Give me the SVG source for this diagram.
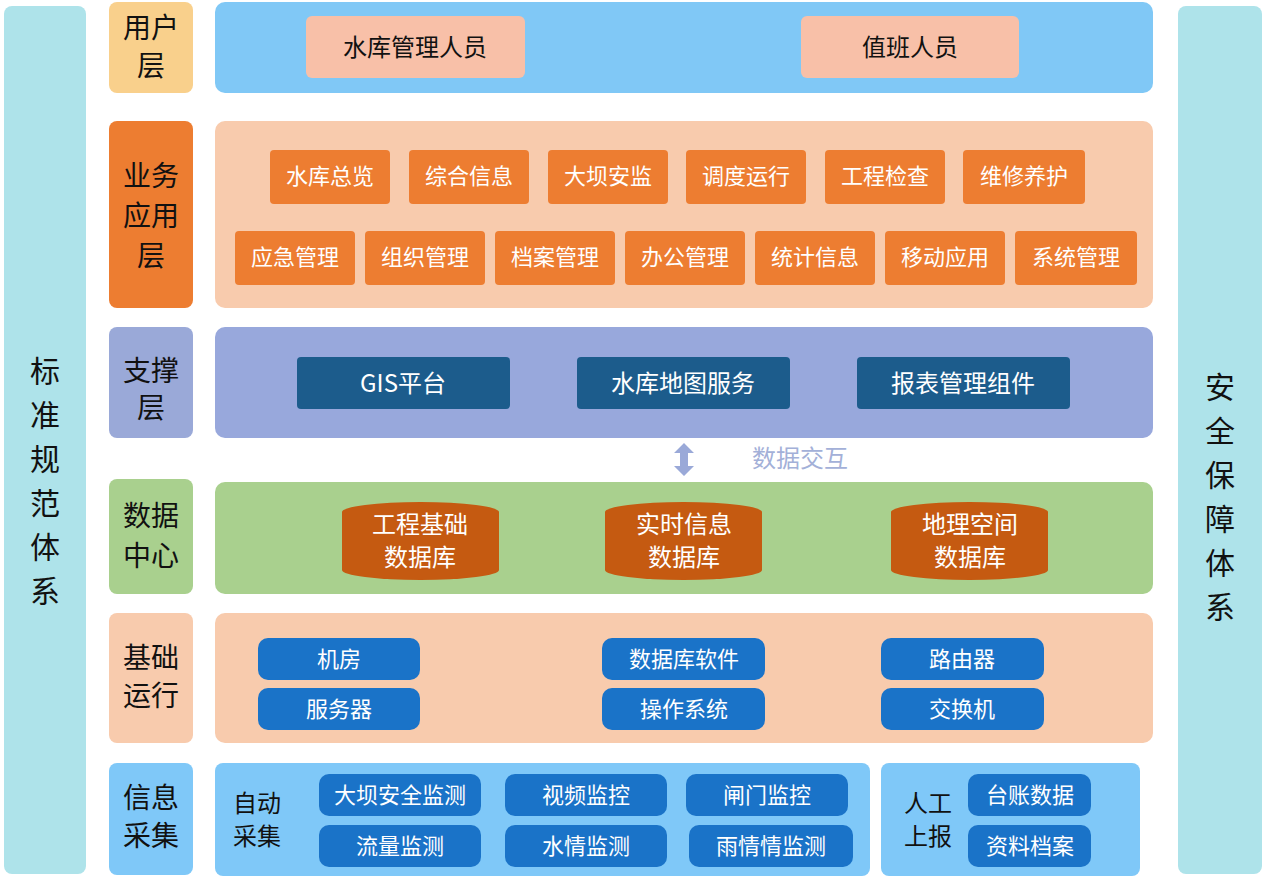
<svg xmlns="http://www.w3.org/2000/svg" width="1264" height="880" viewBox="0 0 1264 880">
<style>
text{font-family:"Noto Sans CJK SC","Liberation Sans",sans-serif;text-anchor:middle}
.side{fill:#aee3ea}
.sidet{font-size:30px;fill:#111}
.lab{font-size:28px;fill:#111}
.o{fill:#ed7d31}
.ot{font-size:22px;fill:#fff}
.db{fill:#1c5c8c}
.dbt{font-size:24px;fill:#fff}
.b{fill:#1a73c8}
.bt{font-size:22px;fill:#fff}
.cy{fill:#c55a11}
</style>
<rect width="1264" height="880" fill="#fff"/>
<g id="std"><rect class="side" x="4" y="6" width="82" height="868" rx="8"/>
<text class="sidet" x="45" y="382">标</text><text class="sidet" x="45" y="426">准</text><text class="sidet" x="45" y="470">规</text><text class="sidet" x="45" y="514">范</text><text class="sidet" x="45" y="558">体</text><text class="sidet" x="45" y="602">系</text></g>
<g id="sec"><rect class="side" x="1178" y="6" width="84" height="868" rx="8"/>
<text class="sidet" x="1220" y="398">安</text><text class="sidet" x="1220" y="442">全</text><text class="sidet" x="1220" y="486">保</text><text class="sidet" x="1220" y="530">障</text><text class="sidet" x="1220" y="574">体</text><text class="sidet" x="1220" y="618">系</text></g>

<g id="l-user"><rect x="109" y="2" width="84" height="91" rx="8" fill="#f9d08c"/><text class="lab" x="151" y="38">用户</text><text class="lab" x="151" y="76">层</text></g>
<g id="l-biz"><rect x="109" y="121" width="84" height="187" rx="8" fill="#ed7d31"/><text class="lab" x="151" y="186">业务</text><text class="lab" x="151" y="226">应用</text><text class="lab" x="151" y="266">层</text></g>
<g id="l-sup"><rect x="109" y="327" width="84" height="111" rx="8" fill="#9aa9d8"/><text class="lab" x="151" y="381">支撑</text><text class="lab" x="151" y="418">层</text></g>
<g id="l-data"><rect x="109" y="479" width="84" height="115" rx="8" fill="#a9d08e"/><text class="lab" x="151" y="526">数据</text><text class="lab" x="151" y="566">中心</text></g>
<g id="l-base"><rect x="109" y="613" width="84" height="130" rx="8" fill="#f8cbad"/><text class="lab" x="151" y="668">基础</text><text class="lab" x="151" y="706">运行</text></g>
<g id="l-col"><rect x="109" y="763" width="84" height="112" rx="8" fill="#7fc8f8"/><text class="lab" x="151" y="808">信息</text><text class="lab" x="151" y="846">采集</text></g>

<g id="p-user"><rect x="215" y="2" width="938" height="91" rx="10" fill="#80c8f6"/>
<rect x="306" y="16" width="219" height="62" rx="6" fill="#f8c0a8"/><text x="415" y="56" font-size="24" fill="#111">水库管理人员</text>
<rect x="801" y="16" width="218" height="62" rx="6" fill="#f8c0a8"/><text x="910" y="56" font-size="24" fill="#111">值班人员</text></g>

<g id="p-biz"><rect x="215" y="121" width="938" height="187" rx="10" fill="#f8cbad"/>
<rect class="o" x="270" y="150" width="120" height="54" rx="4"/><text class="ot" x="330" y="184">水库总览</text>
<rect class="o" x="409" y="150" width="120" height="54" rx="4"/><text class="ot" x="469" y="184">综合信息</text>
<rect class="o" x="548" y="150" width="120" height="54" rx="4"/><text class="ot" x="608" y="184">大坝安监</text>
<rect class="o" x="686" y="150" width="120" height="54" rx="4"/><text class="ot" x="746" y="184">调度运行</text>
<rect class="o" x="825" y="150" width="120" height="54" rx="4"/><text class="ot" x="885" y="184">工程检查</text>
<rect class="o" x="963" y="150" width="122" height="54" rx="4"/><text class="ot" x="1024" y="184">维修养护</text>
<rect class="o" x="235" y="231" width="120" height="54" rx="4"/><text class="ot" x="295" y="265">应急管理</text>
<rect class="o" x="365" y="231" width="120" height="54" rx="4"/><text class="ot" x="425" y="265">组织管理</text>
<rect class="o" x="495" y="231" width="120" height="54" rx="4"/><text class="ot" x="555" y="265">档案管理</text>
<rect class="o" x="625" y="231" width="120" height="54" rx="4"/><text class="ot" x="685" y="265">办公管理</text>
<rect class="o" x="755" y="231" width="120" height="54" rx="4"/><text class="ot" x="815" y="265">统计信息</text>
<rect class="o" x="885" y="231" width="120" height="54" rx="4"/><text class="ot" x="945" y="265">移动应用</text>
<rect class="o" x="1015" y="231" width="122" height="54" rx="4"/><text class="ot" x="1076" y="265">系统管理</text></g>

<g id="p-sup"><rect x="215" y="327" width="938" height="111" rx="10" fill="#98a8dc"/>
<rect class="db" x="297" y="357" width="213" height="52" rx="4"/><text class="dbt" x="403" y="392">GIS平台</text>
<rect class="db" x="577" y="357" width="213" height="52" rx="4"/><text class="dbt" x="683" y="392">水库地图服务</text>
<rect class="db" x="857" y="357" width="213" height="52" rx="4"/><text class="dbt" x="963" y="392">报表管理组件</text></g>

<g id="connectors"><path d="M684 443 L694 453 L688 453 L688 466 L694 466 L684 476 L674 466 L680 466 L680 453 L674 453 Z" fill="#9aa9d8"/></g>
<text x="800" y="467" font-size="24" fill="#a3b0d8">数据交互</text>

<g id="p-data"><rect x="215" y="482" width="938" height="112" rx="10" fill="#a9d08e"/>
<g><path class="cy" d="M342 512 A78.5 10 0 0 1 499 512 L499 570 A78.5 10 0 0 1 342 570 Z"/><text class="dbt" x="420" y="533">工程基础</text><text class="dbt" x="420" y="566">数据库</text></g>
<g><path class="cy" d="M605 512 A78.5 10 0 0 1 762 512 L762 570 A78.5 10 0 0 1 605 570 Z"/><text class="dbt" x="684" y="533">实时信息</text><text class="dbt" x="684" y="566">数据库</text></g>
<g><path class="cy" d="M891 512 A78.5 10 0 0 1 1048 512 L1048 570 A78.5 10 0 0 1 891 570 Z"/><text class="dbt" x="970" y="533">地理空间</text><text class="dbt" x="970" y="566">数据库</text></g></g>

<g id="p-base"><rect x="215" y="613" width="938" height="130" rx="10" fill="#f8cbad"/>
<rect class="b" x="258" y="638" width="162" height="42" rx="10"/><text class="bt" x="339" y="667">机房</text>
<rect class="b" x="258" y="688" width="162" height="42" rx="10"/><text class="bt" x="339" y="717">服务器</text>
<rect class="b" x="602" y="638" width="163" height="42" rx="10"/><text class="bt" x="684" y="667">数据库软件</text>
<rect class="b" x="602" y="688" width="163" height="42" rx="10"/><text class="bt" x="684" y="717">操作系统</text>
<rect class="b" x="881" y="638" width="163" height="42" rx="10"/><text class="bt" x="962" y="667">路由器</text>
<rect class="b" x="881" y="688" width="163" height="42" rx="10"/><text class="bt" x="962" y="717">交换机</text></g>

<g id="p-col"><rect x="215" y="763" width="655" height="113" rx="8" fill="#7fc8f8"/>
<text x="257" y="812" font-size="24" fill="#111">自动</text><text x="257" y="845" font-size="24" fill="#111">采集</text>
<rect class="b" x="319" y="774" width="162" height="42" rx="10"/><text class="bt" x="400" y="803">大坝安全监测</text>
<rect class="b" x="319" y="825" width="162" height="42" rx="10"/><text class="bt" x="400" y="854">流量监测</text>
<rect class="b" x="505" y="774" width="162" height="42" rx="10"/><text class="bt" x="586" y="803">视频监控</text>
<rect class="b" x="505" y="825" width="162" height="42" rx="10"/><text class="bt" x="586" y="854">水情监测</text>
<rect class="b" x="686" y="774" width="162" height="42" rx="10"/><text class="bt" x="767" y="803">闸门监控</text>
<rect class="b" x="689" y="825" width="164" height="42" rx="10"/><text class="bt" x="771" y="854">雨情情监测</text></g>
<g id="p-man"><rect x="881" y="763" width="259" height="113" rx="8" fill="#7fc8f8"/>
<text x="928" y="812" font-size="24" fill="#111">人工</text><text x="928" y="845" font-size="24" fill="#111">上报</text>
<rect class="b" x="968" y="774" width="123" height="42" rx="10"/><text class="bt" x="1030" y="803">台账数据</text>
<rect class="b" x="968" y="825" width="123" height="42" rx="10"/><text class="bt" x="1030" y="854">资料档案</text></g>
</svg>
